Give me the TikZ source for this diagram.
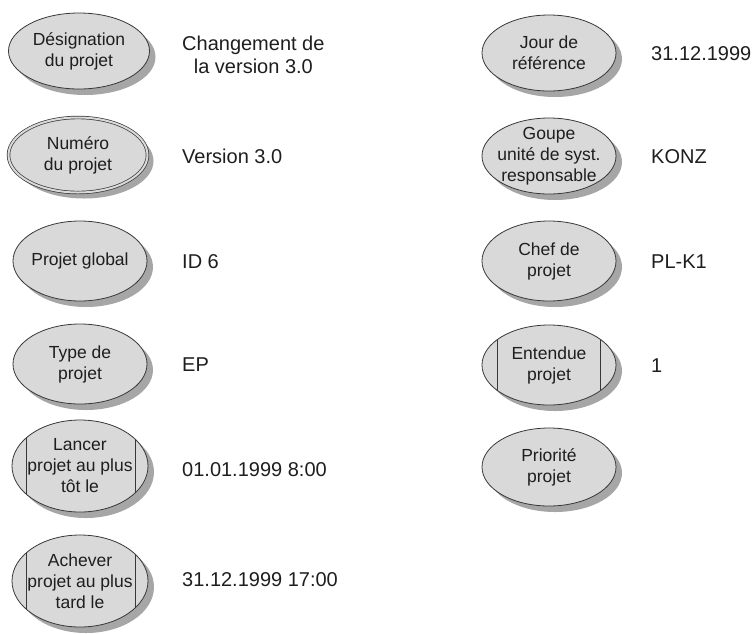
\documentclass[tikz,border=0pt]{standalone}
\usepackage{fontspec}
\setmainfont{Liberation Sans}
\usetikzlibrary{shapes.geometric,shadows}
\definecolor{ellfill}{HTML}{D9D9D9}
\definecolor{ellline}{HTML}{383838}
\definecolor{shadowc}{HTML}{9C9C9C}
\definecolor{txt}{HTML}{1E1E1E}
\begin{document}
\begin{tikzpicture}[x=1pt,y=-1pt,
  ell/.style 2 args={ellipse, draw=ellline, fill=ellfill, line width=0.8pt,
    minimum width=#1, minimum height=#2, inner sep=0pt,
    drop shadow={shadow xshift=6pt, shadow yshift=-6pt, fill=shadowc, opacity=0.9}},
  dbl/.style={double=ellfill, double distance=2pt, line width=0.7pt},
  etext/.style={align=center, inner sep=0pt, text=txt, font=\fontsize{17.5}{21}\selectfont},
  val/.style={anchor=west, align=center, inner sep=0pt, text=txt, font=\fontsize{20}{23}\selectfont},
  chord/.style={draw=ellline, line width=0.8pt}]
\useasboundingbox (0,0) rectangle (754,633);
% left column ellipses
\node[ell={141pt}{76pt}] (e1) at (79,51) {};
\node[ell={139pt}{75pt}, dbl] (e2) at (78,155) {};
\node[ell={134pt}{80pt}] (e3) at (80,261) {};
\node[ell={134pt}{80pt}] (e4) at (80,364) {};
\node[ell={136pt}{92pt}] (e5) at (80,466) {};
\node[ell={136pt}{92pt}] (e6) at (80,581) {};
% right column ellipses
\node[ell={134pt}{76pt}] (r1) at (549,53) {};
\node[ell={134pt}{76pt}] (r2) at (549,156) {};
\node[ell={134pt}{80pt}] (r3) at (549,261) {};
\node[ell={134pt}{80pt}] (r4) at (549,365) {};
\node[ell={134pt}{78pt}] (r5) at (549,467) {};
% chords
\begin{scope}
  \clip (e5.center) ellipse [x radius=68pt, y radius=46pt];
  \draw[chord] ([xshift=-54pt]e5.north) -- ([xshift=-54pt]e5.south);
  \draw[chord] ([xshift=55pt]e5.north) -- ([xshift=55pt]e5.south);
\end{scope}
\begin{scope}
  \clip (e6.center) ellipse [x radius=68pt, y radius=46pt];
  \draw[chord] ([xshift=-54pt]e6.north) -- ([xshift=-54pt]e6.south);
  \draw[chord] ([xshift=55pt]e6.north) -- ([xshift=55pt]e6.south);
\end{scope}
\begin{scope}
  \clip (r4.center) ellipse [x radius=67pt, y radius=40pt];
  \draw[chord] ([xshift=-52pt]r4.north) -- ([xshift=-52pt]r4.south);
  \draw[chord] ([xshift=51pt]r4.north) -- ([xshift=51pt]r4.south);
\end{scope}
% ellipse texts
\node[etext] (e1t) at (e1) {Désignation\\du projet};
\node[etext] (e2t) at (e2) {Numéro\\du projet};
\node[etext] (e3t) at (e3) {Projet global};
\node[etext] (e4t) at (e4) {Type de\\projet};
\node[etext] (e5t) at (e5) {Lancer\\projet au plus\\tôt le};
\node[etext] (e6t) at (e6) {Achever\\projet au plus\\tard le};
\node[etext] (r1t) at (r1) {Jour de\\référence};
\node[etext] (r2t) at (r2) {Goupe\\unité de syst.\\responsable};
\node[etext] (r3t) at (r3) {Chef de\\projet};
\node[etext] (r4t) at (r4) {Entendue\\projet};
\node[etext] (r5t) at (r5) {Priorité\\projet};
% values
\node[val] (v1) at (182,55) {Changement de\\la version 3.0};
\node[val] (v2) at (182,156) {Version 3.0};
\node[val] (v3) at (182,262) {ID 6};
\node[val] (v4) at (182,365) {EP};
\node[val] (v5) at (182,470) {01.01.1999 8:00};
\node[val] (v6) at (182,580) {31.12.1999 17:00};
\node[val] (w1) at (651,54) {31.12.1999};
\node[val] (w2) at (651,157) {KONZ};
\node[val] (w3) at (651,262) {PL-K1};
\node[val] (w4) at (651,366) {1};
\end{tikzpicture}
\end{document}
